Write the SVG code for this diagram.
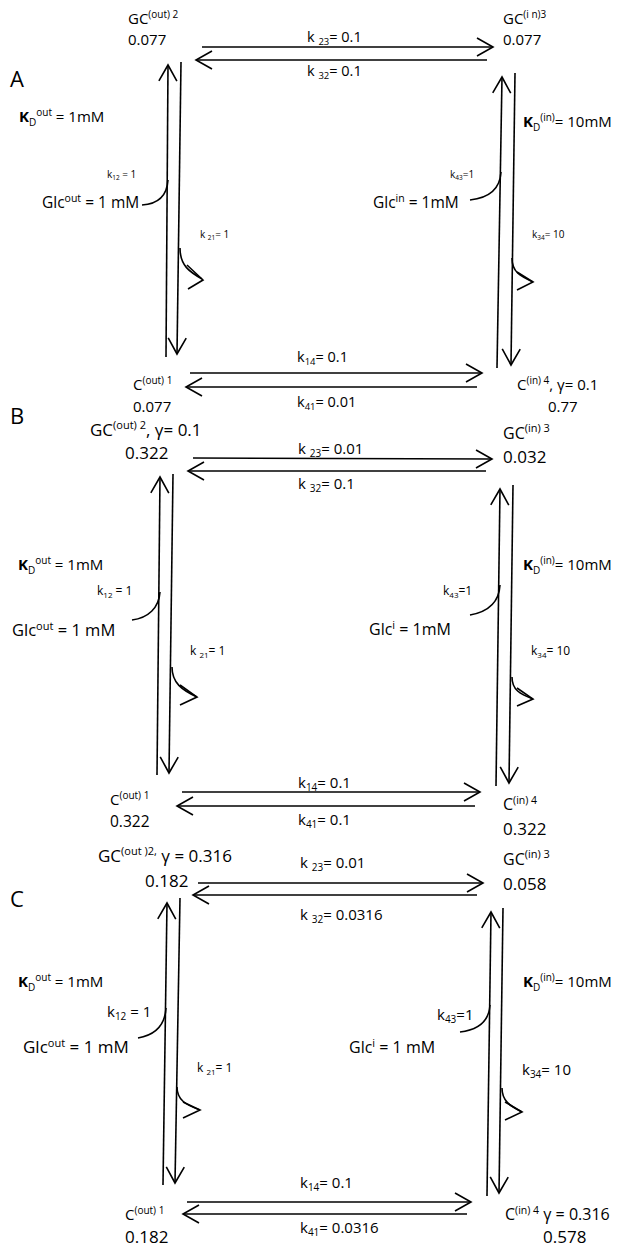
<svg xmlns="http://www.w3.org/2000/svg" width="627" height="1248" viewBox="0 0 627 1248">
<style>
text{font-family:"Open Sans","Liberation Sans",sans-serif;fill:#000}
.ln{stroke:#000;stroke-width:1.6;fill:none}
.pl{font-size:22px}
</style>
<defs>
<marker id="v" markerUnits="userSpaceOnUse" orient="auto" overflow="visible" markerWidth="1" markerHeight="1" refX="0" refY="0">
<path d="M-16,-9 L0,0 L-16,9" fill="none" stroke="#000" stroke-width="1.6"/>
</marker>
</defs>
<rect width="627" height="1248" fill="#fff"/>

<!-- ================= PANEL A ================= -->
<g id="A-title"><text x="10" y="87" class="pl">A</text></g>
<g id="A-GC2"><text x="128" y="24" font-size="15">GC<tspan font-size="10" dy="-6">(out) 2</tspan></text><text x="128" y="45" font-size="15">0.077</text></g>
<g id="A-GC3"><text x="503" y="24" font-size="15">GC<tspan font-size="10" dy="-6">(i n)3</tspan></text><text x="503" y="45" font-size="15">0.077</text></g>
<g id="A-C1"><text x="133" y="390" font-size="15">C<tspan font-size="10" dy="-6">(out) 1</tspan></text><text x="133" y="412" font-size="15">0.077</text></g>
<g id="A-C4"><text x="517" y="390" font-size="15">C<tspan font-size="10" dy="-6">(in) 4</tspan><tspan dy="6">,  γ= 0.1</tspan></text><text x="548" y="412" font-size="15">0.77</text></g>
<g id="A-labels">
<text x="307" y="42" font-size="14.5">k <tspan font-size="9.5" dy="3">23</tspan><tspan dy="-3">= 0.1</tspan></text>
<text x="307" y="76" font-size="14.5">k <tspan font-size="9.5" dy="3">32</tspan><tspan dy="-3">= 0.1</tspan></text>
<text x="297" y="362" font-size="14.5">k<tspan font-size="9.5" dy="3">14</tspan><tspan dy="-3">= 0.1</tspan></text>
<text x="297" y="407" font-size="14.5">k<tspan font-size="9.5" dy="3">41</tspan><tspan dy="-3">= 0.01</tspan></text>
<text x="19" y="122" font-size="15"><tspan font-weight="bold">K</tspan><tspan font-size="10" dy="4">D</tspan><tspan font-size="10" dy="-10">out</tspan><tspan dy="6"> = 1mM</tspan></text>
<text x="523" y="127" font-size="15"><tspan font-weight="bold">K</tspan><tspan font-size="10" dy="4">D</tspan><tspan font-size="10" dy="-10">(in)</tspan><tspan dy="6">= 10mM</tspan></text>
<text x="107" y="178" font-size="10">k<tspan font-size="6.5" dy="2">12</tspan><tspan dy="-2"> = 1</tspan></text>
<text x="42" y="208" font-size="15.5">Glc<tspan font-size="10.5" dy="-6">out</tspan><tspan dy="6"> = 1 mM</tspan></text>
<text x="200" y="238" font-size="10">k <tspan font-size="6.5" dy="2">21</tspan><tspan dy="-2">= 1</tspan></text>
<text x="450" y="178" font-size="10">k<tspan font-size="6.5" dy="2">43</tspan><tspan dy="-2">=1</tspan></text>
<text x="373" y="208" font-size="15.5">Glc<tspan font-size="10.5" dy="-6">in</tspan><tspan dy="6"> = 1mM</tspan></text>
<text x="532" y="238" font-size="10">k<tspan font-size="6.5" dy="2">34</tspan><tspan dy="-2">= 10</tspan></text>
</g>
<g id="A-connectors">
<path class="ln" d="M166,357 L168,65" marker-end="url(#v)"/>
<path class="ln" d="M181,62 L177,354" marker-end="url(#v)"/>
<path class="ln" d="M202,47 L493,47" marker-end="url(#v)"/>
<path class="ln" d="M487,60 L196,60" marker-end="url(#v)"/>
<path class="ln" d="M497,368 L502,77" marker-end="url(#v)"/>
<path class="ln" d="M515,73 L511,365" marker-end="url(#v)"/>
<path class="ln" d="M190,373 L482,373" marker-end="url(#v)"/>
<path class="ln" d="M477,387 L186,387" marker-end="url(#v)"/>
<path class="ln" d="M142,205 C158,204 167,196 168,180"/>
<path class="ln" d="M180,248 C180,266 190,272 202,279"/>
<path class="ln" d="M187,265 L203,280 L188,289"/>
<path class="ln" d="M470,200 C488,198 500,190 501,172"/>
<path class="ln" d="M512,258 C512,272 520,276 533,282"/>
<path class="ln" d="M517,272 L533,282 L517,290"/>
</g>

<!-- ================= PANEL B ================= -->
<g id="B-title"><text x="10" y="424" class="pl">B</text></g>
<g id="B-GC2"><text x="90" y="436" font-size="17">GC<tspan font-size="11" dy="-7">(out) 2</tspan><tspan dy="7">, γ= 0.1</tspan></text><text x="125" y="459" font-size="17">0.322</text></g>
<g id="B-GC3"><text x="503" y="439" font-size="16">GC<tspan font-size="11" dy="-7">(in) 3</tspan></text><text x="503" y="463" font-size="17">0.032</text></g>
<g id="B-C1"><text x="110" y="805" font-size="15">C<tspan font-size="10" dy="-6">(out) 1</tspan></text><text x="110" y="827" font-size="15.5">0.322</text></g>
<g id="B-C4"><text x="503" y="810" font-size="16">C<tspan font-size="10.5" dy="-6">(in) 4</tspan></text><text x="503" y="835" font-size="17">0.322</text></g>
<g id="B-labels">
<text x="298" y="454" font-size="15">k <tspan font-size="10" dy="3">23</tspan><tspan dy="-3">= 0.01</tspan></text>
<text x="298" y="489" font-size="15">k <tspan font-size="10" dy="3">32</tspan><tspan dy="-3">= 0.1</tspan></text>
<text x="298" y="788" font-size="15">k<tspan font-size="10" dy="3">14</tspan><tspan dy="-3">= 0.1</tspan></text>
<text x="298" y="825" font-size="15">k<tspan font-size="10" dy="3">41</tspan><tspan dy="-3">= 0.1</tspan></text>
<text x="18" y="570" font-size="15"><tspan font-weight="bold">K</tspan><tspan font-size="10" dy="4">D</tspan><tspan font-size="10" dy="-10">out</tspan><tspan dy="6"> = 1mM</tspan></text>
<text x="523" y="570" font-size="15"><tspan font-weight="bold">K</tspan><tspan font-size="10" dy="4">D</tspan><tspan font-size="10" dy="-10">(in)</tspan><tspan dy="6">= 10mM</tspan></text>
<text x="97" y="595" font-size="12">k<tspan font-size="8" dy="3">12</tspan><tspan dy="-3"> = 1</tspan></text>
<text x="12" y="636" font-size="16.5">Glc<tspan font-size="11" dy="-6">out</tspan><tspan dy="6"> = 1 mM</tspan></text>
<text x="190" y="655" font-size="12">k <tspan font-size="8" dy="3">21</tspan><tspan dy="-3">= 1</tspan></text>
<text x="443" y="595" font-size="12">k<tspan font-size="8" dy="3">43</tspan><tspan dy="-3">=1</tspan></text>
<text x="369" y="635" font-size="16">Glc<tspan font-size="11" dy="-6">i</tspan><tspan dy="6"> = 1mM</tspan></text>
<text x="531" y="655" font-size="12">k<tspan font-size="8" dy="3">34</tspan><tspan dy="-3">= 10</tspan></text>
</g>
<g id="B-connectors">
<path class="ln" d="M157,775 L160,477" marker-end="url(#v)"/>
<path class="ln" d="M173,474 L169,773" marker-end="url(#v)"/>
<path class="ln" d="M193,458 L492,459" marker-end="url(#v)"/>
<path class="ln" d="M486,471 L188,471" marker-end="url(#v)"/>
<path class="ln" d="M496,786 L500,489" marker-end="url(#v)"/>
<path class="ln" d="M513,485 L509,783" marker-end="url(#v)"/>
<path class="ln" d="M182,792 L480,792" marker-end="url(#v)"/>
<path class="ln" d="M475,806 L177,806" marker-end="url(#v)"/>
<path class="ln" d="M132,620 C148,618 159,608 160,592"/>
<path class="ln" d="M172,667 C172,683 182,690 197,697"/>
<path class="ln" d="M180,685 L197,697 L180,705"/>
<path class="ln" d="M470,615 C487,612 499,603 500,585"/>
<path class="ln" d="M512,677 C512,690 520,694 533,699"/>
<path class="ln" d="M517,688 L533,699 L517,706"/>
</g>

<!-- ================= PANEL C ================= -->
<g id="C-title"><text x="10" y="907" class="pl">C</text></g>
<g id="C-GC2"><text x="98" y="862" font-size="17">GC<tspan font-size="11" dy="-7">(out )2,</tspan><tspan dy="7"> γ = 0.316</tspan></text><text x="145" y="887" font-size="17">0.182</text></g>
<g id="C-GC3"><text x="503" y="865" font-size="16">GC<tspan font-size="11" dy="-7">(in) 3</tspan></text><text x="503" y="890" font-size="17">0.058</text></g>
<g id="C-C1"><text x="125" y="1220" font-size="15">C<tspan font-size="10" dy="-6">(out) 1</tspan></text><text x="125" y="1243" font-size="17">0.182</text></g>
<g id="C-C4"><text x="505" y="1220" font-size="16">C<tspan font-size="10.5" dy="-6">(in) 4</tspan><tspan dy="6">  γ = 0.316</tspan></text><text x="543" y="1243" font-size="17">0.578</text></g>
<g id="C-labels">
<text x="300" y="868" font-size="15">k <tspan font-size="10" dy="3">23</tspan><tspan dy="-3">= 0.01</tspan></text>
<text x="300" y="920" font-size="15">k <tspan font-size="10" dy="3">32</tspan><tspan dy="-3">= 0.0316</tspan></text>
<text x="300" y="1188" font-size="15">k<tspan font-size="10" dy="3">14</tspan><tspan dy="-3">= 0.1</tspan></text>
<text x="300" y="1233" font-size="15">k<tspan font-size="10" dy="3">41</tspan><tspan dy="-3">= 0.0316</tspan></text>
<text x="18" y="987" font-size="15"><tspan font-weight="bold">K</tspan><tspan font-size="10" dy="4">D</tspan><tspan font-size="10" dy="-10">out</tspan><tspan dy="6"> = 1mM</tspan></text>
<text x="523" y="987" font-size="15"><tspan font-weight="bold">K</tspan><tspan font-size="10" dy="4">D</tspan><tspan font-size="10" dy="-10">(in)</tspan><tspan dy="6">= 10mM</tspan></text>
<text x="107" y="1017" font-size="15">k<tspan font-size="10" dy="3">12</tspan><tspan dy="-3"> = 1</tspan></text>
<text x="23" y="1053" font-size="17">Glc<tspan font-size="11" dy="-6">out</tspan><tspan dy="6"> = 1 mM</tspan></text>
<text x="197" y="1072" font-size="12">k <tspan font-size="8" dy="3">21</tspan><tspan dy="-3">= 1</tspan></text>
<text x="437" y="1020" font-size="15">k<tspan font-size="10" dy="3">43</tspan><tspan dy="-3">=1</tspan></text>
<text x="349" y="1053" font-size="16">Glc<tspan font-size="11" dy="-6">i</tspan><tspan dy="6"> = 1 mM</tspan></text>
<text x="522" y="1075" font-size="15">k<tspan font-size="10" dy="3">34</tspan><tspan dy="-3">= 10</tspan></text>
</g>
<g id="C-connectors">
<path class="ln" d="M163,1185 L167,903" marker-end="url(#v)"/>
<path class="ln" d="M180,898 L175,1183" marker-end="url(#v)"/>
<path class="ln" d="M198,883 L483,883" marker-end="url(#v)"/>
<path class="ln" d="M477,895 L193,895" marker-end="url(#v)"/>
<path class="ln" d="M487,1196 L491,912" marker-end="url(#v)"/>
<path class="ln" d="M503,908 L499,1193" marker-end="url(#v)"/>
<path class="ln" d="M187,1202 L471,1202" marker-end="url(#v)"/>
<path class="ln" d="M467,1214 L183,1214" marker-end="url(#v)"/>
<path class="ln" d="M138,1038 C155,1035 165,1026 166,1008"/>
<path class="ln" d="M177,1087 C177,1100 186,1105 200,1110"/>
<path class="ln" d="M183,1102 L200,1110 L183,1118"/>
<path class="ln" d="M460,1032 C477,1030 489,1022 490,1005"/>
<path class="ln" d="M502,1088 C502,1101 510,1106 522,1112"/>
<path class="ln" d="M505,1102 L522,1112 L505,1120"/>
</g>
</svg>
